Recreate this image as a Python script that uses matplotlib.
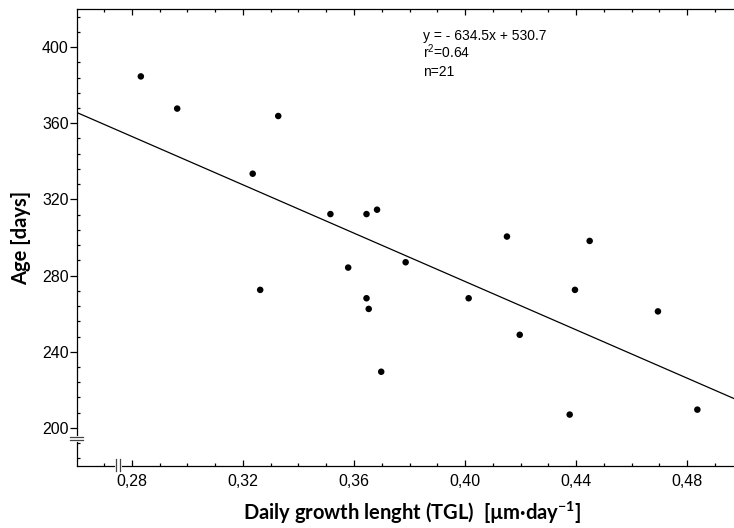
import numpy as np
import matplotlib
matplotlib.use("Agg")
import matplotlib.pyplot as plt
from matplotlib.ticker import MultipleLocator, FuncFormatter
from matplotlib.transforms import blended_transform_factory

# data
tgl = [0.2832, 0.2963, 0.3327, 0.3235, 0.3515, 0.3645, 0.3683, 0.3579,
       0.3262, 0.3645, 0.3653, 0.3698, 0.3786, 0.4151, 0.4449, 0.4013,
       0.4396, 0.4197, 0.4695, 0.4377, 0.4837]
age = [384.6, 367.7, 363.8, 333.5, 312.3, 312.3, 314.6, 284.2,
       272.5, 268.1, 262.5, 229.5, 287.0, 300.5, 298.2, 268.1,
       272.5, 248.9, 261.2, 207.0, 209.6]

slope, intercept = -634.5, 530.7
stats_lines = ["y = - 634.5x + 530.7", "$\\mathsf{r}^{\\mathsf{2}}$=0.64", "n=21"]

XMIN, XMAX = 0.2602, 0.4969
YMIN, YMAX = 180, 420

plt.rcParams['mathtext.fontset'] = 'custom'
plt.rcParams['mathtext.rm'] = 'Lato'
plt.rcParams['mathtext.bf'] = 'Lato:bold'
plt.rcParams['mathtext.sf'] = 'Liberation Sans'

fig = plt.figure(figsize=(7.34, 5.28), dpi=100)
ax = fig.add_axes([77 / 734, 62 / 528, 657 / 734, 457 / 528])

ax.scatter(tgl, age, s=22, color='black', edgecolor='none', zorder=3)

xs = np.array([XMIN, XMAX])
ax.plot(xs, slope * xs + intercept, color='black', lw=0.9, zorder=2)

ax.set_xlim(XMIN, XMAX)
ax.set_ylim(YMIN, YMAX)

for s in ['left', 'bottom', 'top']:
    ax.spines[s].set_linewidth(0.9)
ax.spines['right'].set_visible(False)

ax.xaxis.set_major_locator(MultipleLocator(0.04))
ax.xaxis.set_minor_locator(MultipleLocator(0.01))
ax.yaxis.set_major_locator(MultipleLocator(40))
ax.yaxis.set_minor_locator(MultipleLocator(8))
ax.xaxis.set_major_formatter(FuncFormatter(lambda v, p: f"{v:.2f}".replace('.', ',')))

ax.tick_params(axis='x', which='major', direction='in', length=4, width=0.9,
               top=True, labelsize=11.5, pad=6)
ax.tick_params(axis='x', which='minor', direction='in', length=2, width=0.9, top=True)
ax.tick_params(axis='y', which='major', direction='out', length=5, width=0.9,
               labelsize=11.5, pad=1)
ax.tick_params(axis='y', which='minor', direction='in', length=2, width=0.9)
for lab in ax.get_xticklabels() + ax.get_yticklabels():
    lab.set_family('Liberation Sans')

ax.set_xlabel("Daily growth lenght (TGL)  [µm·day$^{\\mathbf{-1}}$]",
              fontsize=14.5, fontweight='bold', family=['Lato', 'DejaVu Sans'])
ax.set_ylabel("Age [days]", fontsize=14.5, fontweight='bold', family=['Lato', 'DejaVu Sans'])
ax.xaxis.set_label_coords(0.51, -0.074)
ax.yaxis.set_label_coords(-0.07, 0.5)

# regression stats
for i, line in enumerate(stats_lines):
    ax.text(0.526, 0.932 - i * 0.039, line, transform=ax.transAxes,
            fontsize=10, family='Liberation Sans', va='baseline')

# axis break marks
bx = blended_transform_factory(ax.transData, ax.transAxes)
for xb in (0.2742, 0.2758):
    ax.plot([xb, xb], [-0.012, 0.015], color='#444444', lw=0.9,
            transform=bx, clip_on=False, zorder=6)
ax.plot([0.2744, 0.2756], [0, 0], color='white', lw=2, transform=bx,
        clip_on=False, zorder=5)

by = blended_transform_factory(ax.transAxes, ax.transData)
for yb in (195.4, 193.5):
    ax.plot([-0.011, 0.009], [yb, yb], color='#444444', lw=0.9,
            transform=by, clip_on=False, zorder=6)
ax.plot([0, 0], [195.0, 193.9], color='white', lw=2, transform=by,
        clip_on=False, zorder=5)

fig.savefig("out.png", dpi=100)
